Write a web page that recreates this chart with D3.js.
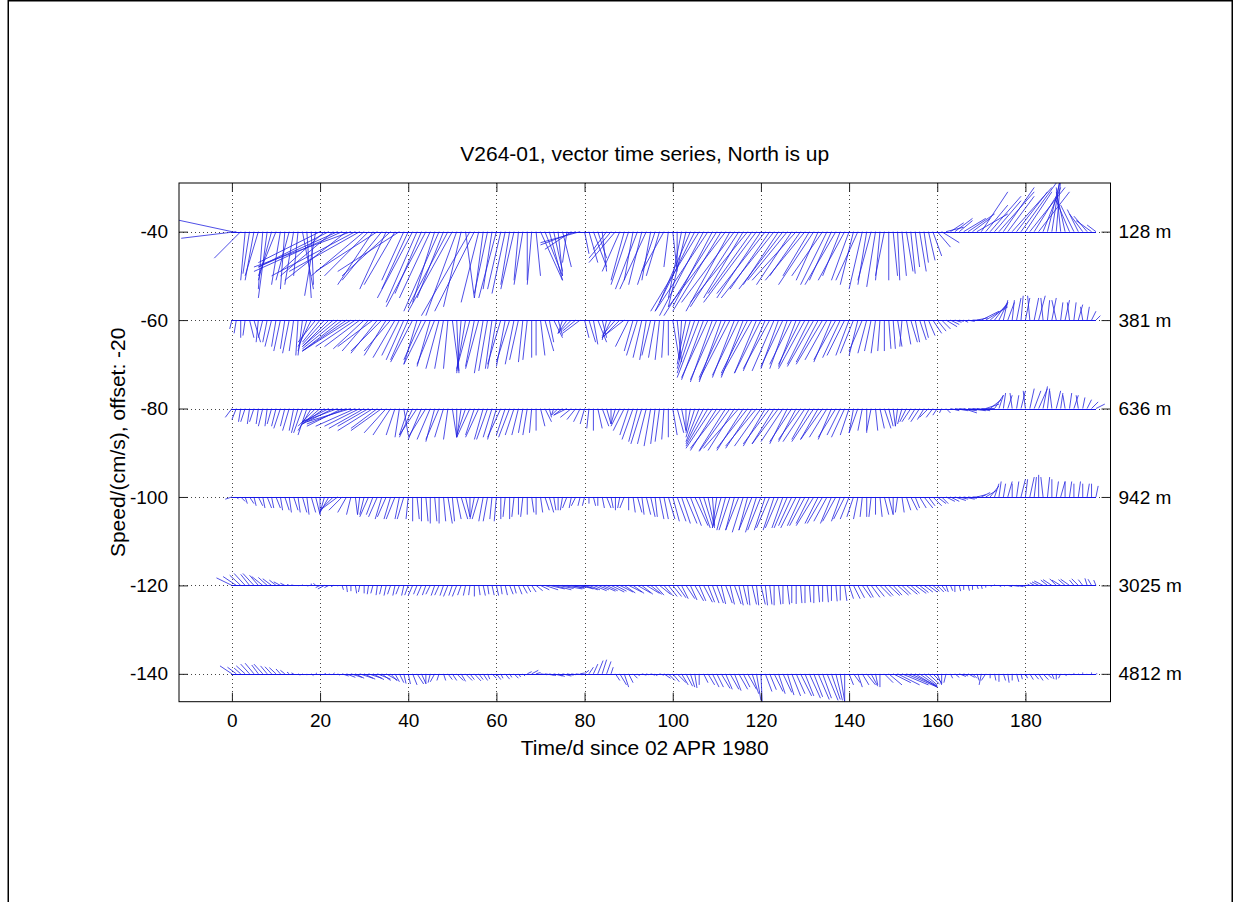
<!DOCTYPE html>
<html><head><meta charset="utf-8">
<script src="https://cdn.jsdelivr.net/npm/d3@7"></script>
<style>
body{margin:0;background:#fff}
svg{display:block}
text{font-family:"Liberation Sans",Arial,Helvetica,sans-serif;fill:#000}
</style>
</head><body>
<svg id="chart" width="1234" height="902"></svg>
<script>
// ---------- data ----------
const titleText = "V264-01, vector time series, North is up";
const xLabelText = "Time/d since 02 APR 1980";
const yLabelText = "Speed/(cm/s), offset: -20";
const depthLabels = ["128 m","381 m","636 m","942 m","3025 m","4812 m"];
const offsets = [-40,-60,-80,-100,-120,-140];
const xTicks = [0,20,40,60,80,100,120,140,160,180];
const yTicks = [-140,-120,-100,-80,-60,-40];
const firstDay = 0, lastDay = 196;

const u128 = [-14,-12.5,-6,-1,-1.5,-2,-3,-1,-2,-3, -4,-2,-1,-3,-2,-1,2.5,1,0.5,-2.5,
 -14,-10,-16,-12,-18,-20,-14,-22,-19,-16, -12,-10,-8,-14,-9,-6,-11,-7,-14,-5,
 -6,-8,-7,-6,-9,-7,-5,-8,-6,-9, -10,-7,-4,2,-11,-9,-4,-2,-3,-2,
 -4,-3,-3,-2,-3,-1,-2,0,-1,1, 5,4,3,2,1,2,-1,-6,-8,-9,
 1,2,3,2,1,-3,-5,-6,-4,-3, -4,-2,-5,-3,-6,-2,-4,-3,-5,-1,
 1,0,-3,-4,-7,-9,-11,-10,-12,-9, -12,-11,-13,-10,-12,-11,-9,-13,-10,-12,
 -10,-11,-9,-12,-8,-10,-9,-8,-10,-7, -9,-6,-8,-5,-7,-6,-5,-7,-4,-6,
 -4,-3,-5,-3,-2,-3,-2,-1,-2,0, 1,0.5,1,1.5,1,1,1.5,1,1.5,2,
 3,4,4,3,4,3,5,6,4,7, 6,5,7,6,8,7,6,9,7,8,
 6,8,5,7,4,3,2,1,-1,-2, -3,-3,-2.5,-3,-3,-3.5,-2];
const v128 = [3,-1.5,-6,-11,-9.5,-11,-10,-13,-15,-11, -10,-12,-13,-11,-12,-10,-13,-15,-12,-14.5,
 -7,-9,-8,-10,-8,-9,-11,-8,-10,-9, -10,-10,-12,-9,-11,-13,-10,-12,-9,-11,
 -13,-15,-16,-14,-17,-15,-16,-18,-15,-17, -18,-19,-17,-15,-19,-18,-16,-15,-14,-13,
 -15,-13,-14,-12,-13,-11,-12,-11,-12,-10, -11,-10,-11,-9,-10,-8,-7,-4,-3,-2.5,
 -5,-7,-8,-6,-9,-4,-6,-7,-9,-11, -12,-11,-13,-12,-13,-11,-12,-10,-9,-8,
 -9,-8,-15,-17,-16,-18,-18,-19,-18,-17, -19,-18,-17,-18,-16,-17,-15,-16,-14,-16,
 -15,-14,-13,-15,-12,-13,-11,-12,-11,-10, -11,-10,-12,-11,-10,-12,-11,-12,-10,-11,
 -11,-12,-11,-13,-12,-11,-12.5,-11,-10,-11, -10,-11,-10,-9,-9.5,-8,-9,-7,-6.5,-5.5,
 -3.5,-2.5,1,2,3,2.5,3,4,3,4, 9,6,8,7,9,10,8,10,9,11,
 9,10,8,9,10,12,13,12,10,9, 7,6,5,4,3.5,2.5,1.5];

const u381 = [-0.5,-0.5,0,-0.5,1,1.5,-0.5,-1,-1,-1.5, -1,-1.5,-1,-1.5,-1,-0.5,-1,-2,-3,-4,
 -4,-5,-6,-7,-8,-9,-10,-11,-9,-8, -7,-6,-8,-6,-7,-5,-6,-5,-4,-4,
 -4,-5,-3,-4,-5,-3,-4,-3,-2,-1, 1.5,0.5,-1,-2,-3,-2,-3,-2,-2,-1.5,
 -2,-3,-2,-3,-2,-2,-1,-1,0,0, 1,2,1,2,1,-1,-2,-3,-3,-4,
 1,1.5,1,2,1,-1,-2,-3,-4,-4.5, -3,-2,-2.5,-2,-1.5,-2,-1.5,-1,-0.5,0,
 1.5,1,-0.5,-2,-3,-4,-5,-5,-6,-5, -6,-5,-6,-7,-5,-6,-5,-6,-7,-5,
 -6,-5,-6,-5,-4,-5,-4,-5,-4,-5, -6,-5,-6,-5,-6,-5,-4,-5,-4,-4,
 -3,-3,-2,-3,-2,-1.5,-1,-0.5,0,0.5, 0.5,1,-0.5,1,1.5,1,1.5,1,1.5,2,
 2,2,2.5,2,1.5,1,1,1.5,2,2.5, 4,5,4,3,2,1,1.5,0.5,1,0.5,
 1,-0.5,1,1.5,-0.5,0.5,1,-1,0.5,1, -0.5,0.5,1,-0.5,0.5,1,1];
const v381 = [-2,-3,-4,-3.5,-4,-5,-5,-4,-5,-6, -6,-7,-6.5,-7.5,-7,-8,-8,-7,-6,-5,
 -5,-5.5,-6,-6,-6.5,-7,-7,-7,-6,-6, -6.5,-7,-6,-7.5,-7,-8,-7,-8.5,-8,-9,
 -9,-9.5,-10,-9,-10,-10.5,-10,-11,-11,-11, -11.5,-12,-12,-11.5,-11,-10.5,-11,-12,-11.5,-11,
 -11,-10,-10.5,-9.5,-10,-9,-9.5,-9,-8.5,-8, -8,-7,-5,-4,-3.5,-3,-3,-3,-2.5,-3,
 -4,-5,-5.5,-5,-4,-4.5,-4,-3.5,-4,-3.5, -6,-7,-8,-8.5,-9,-8,-8.5,-9,-8.5,-8,
 -9,-9.5,-9,-10,-11,-12,-13,-13.5,-13,-14, -13.5,-14,-13,-13.5,-13,-12.5,-13,-12,-12.5,-12,
 -12,-11.5,-11,-11.5,-11,-10.5,-11,-10,-10.5,-10, -11,-10,-10.5,-9.5,-10,-9,-9.5,-9,-8.5,-8,
 -8,-7.5,-8,-7,-7.5,-7,-7.5,-7,-7,-6.5, -6.5,-6,-6,-5.5,-5,-5,-4.5,-4,-3.5,-3,
 -2.5,-2,-1.5,-1,-0.5,-0.3,-0.5,-0.3,0,0.5, 2,3,3.5,4,4,4.5,4,4.5,5,5.5,
 5,5.5,5,5.5,5,4.5,5,4.5,4,4.5, 4,4,3.5,3,3,2,1];

const u636 = [-1.5,-1,-0.5,-1,-0.5,-1,-0.5,-1,-0.5,-1, -1,-1.5,-1,-1.5,-1,-1.5,-2,-2,-3,-4,
 -4,-5,-6,-7,-8,-8,-9,-10,-9,-8, -8,-7,-8,-6,-7,-5,-4,-2,-1,1,
 -2,-3,-4,-3,-4,-3,-2,-3,-2,-1, 1,0,-1,-2,-3,-2,-3,-2,-2.5,-2,
 -2,-3,-2,-2.5,-2,-1.5,-1,-1,-0.5,0, 1,1.5,0.5,-0.5,-1.5,-2,-3,-2.5,-2,-1.5,
 -1,-0.5,0,1,1.5,1,0,-1,-2,-2.5, -2,-2.5,-2,-2.5,-2,-1.5,-1,-1,-0.5,0,
 1,1.5,1,0,-1,-2,-3,-4,-5,-6, -6,-7,-6,-7,-6,-8,-6,-7,-6,-7,
 -6,-5,-6,-5,-6,-5,-4,-5,-4,-5, -5,-4,-5,-4,-5,-4,-3,-4,-3,-3,
 -2,-1,-2,-1,0,-1,0.5,1,1.5,1, 0.5,-0.5,-1,-1.5,-2,-1.5,-2,-1.5,-2,-1.5,
 -1,-0.5,1,2,3,4,3,4,3,3, 3,3,2.5,2,1,0.5,1,-0.5,0.5,1,
 -0.5,1,1.5,2,1,0.5,-0.5,1,0.5,-0.5, 0.5,1,-0.5,0.5,1,1.5,2];
const v636 = [-2,-2.5,-3,-3,-3.5,-3,-3.5,-4,-4,-3.5, -4,-4.5,-4,-5,-5,-5.5,-5.5,-6,-5,-4,
 -3.5,-3.5,-3,-3.5,-3,-4,-3.5,-3,-4,-4, -4.5,-4,-5,-4.5,-5,-5.5,-6,-6,-6.5,-6,
 -6,-6.5,-6,-7,-6.5,-7,-7.5,-7,-6.5,-7, -6.5,-6.5,-6.5,-6,-6.5,-6,-6.5,-7,-7,-6.5,
 -7,-6.5,-6,-6.5,-6,-6,-5.5,-6,-5.5,-5, -4,-3,-2,-1.5,-1.5,-1.5,-1.5,-2,-2.5,-3,
 -3.5,-4.5,-5,-4.5,-4,-3.5,-3.5,-3.5,-4,-5, -6,-7,-7.5,-8,-8,-8.5,-8,-7.5,-7,-6.5,
 -6,-5.5,-5,-5,-5.5,-6.5,-7.5,-8,-8.5,-9, -9.5,-9,-9.5,-9.7,-9.5,-9,-9.5,-9,-9,-8.5,
 -8.5,-8.5,-8,-8,-8,-7.5,-8,-7.5,-7.5,-7, -7.5,-7,-7.5,-7,-7,-6.5,-7,-6.5,-6,-6.5,
 -6,-5.5,-5.5,-5,-5.5,-5,-5,-4.5,-4.5,-4, -4,-4,-3.5,-3,-3,-2.5,-3,-2.5,-2,-2,
 -1.5,-1,-1,-0.5,-0.5,-0.5,-1,-0.5,-0.3,-0.5, 0,1,2,3,3,3.5,3,3.5,3,4,
 4,4.5,4,4.5,5,4.5,4,4,3.5,3, 3.5,3,3,2.5,2,1.5,1];

const u942 = [-1.5,0.5,1,0.5,1,0.5,1,0.5,1,0.5, 1,0.5,1,0.5,1,0.5,1,0.5,1,1,
 0,-1,-2,-3,-4,-3,-2,-1,0.5,-0.5, -1,-2,-1.5,-2,-1.5,-2,-1.5,-2,-1,-1.5,
 -0.5,0,0.5,0,0.5,0,0.5,0,0.5,1, 0.5,1,1.5,1,0,-1,-1.5,-1,-1,-0.5,
 -0.5,0,-0.5,0,-0.5,0,-0.5,0,0.5,0, 0.5,1,1,0.5,0,-0.5,-1,-0.5,-1,-0.5,
 -0.5,0,0.5,0,0.5,1,0.5,0,-0.5,-1, 0,0.5,1,0.5,1,1,0.5,1,1,1.5,
 1.5,2,2,2.5,2.5,3,2.5,2,1.5,0.5, -1,-2,-2,-2.5,-2,-3,-2.5,-2,-3,-2.5,
 -3,-2.5,-3,-2.5,-3,-2.5,-3,-3,-3.5,-3, -3.5,-3,-4,-3,-3.5,-3,-2.5,-3,-2,-2.5,
 -2,-1.5,-1,-0.5,0,-0.5,0,0.5,1,1, 0,-0.5,0.5,1,1.5,1,1.5,2,1.5,2,
 2,1.5,2,2,2.5,2,2.5,2,1.5,2, 2,2.5,2,1,0.5,0.5,1,0,0.5,1,
 0.5,1,0.5,0,-0.5,0.5,0,0.5,1,0, 0.5,0,0.5,0,0.5,0,0.5];
const v942 = [-0.5,-0.5,-1,-1.5,-1.5,-2,-2,-2.5,-2.5,-2.5, -2.5,-3,-3,-3.5,-3,-3.5,-3.5,-4,-3.5,-4,
 -4,-3.5,-3.5,-3,-3,-3,-3.5,-4,-4,-4, -4,-4.5,-4,-4.5,-5,-4.5,-5,-5,-5,-5,
 -5,-5.5,-5,-5.5,-5.5,-6,-5.5,-6,-5.5,-6, -5.5,-5,-5,-4.5,-4.5,-5,-5,-5.5,-5.5,-5,
 -5.5,-5,-4.5,-5,-4.5,-4,-4.5,-4,-3.5,-4, -3.5,-3,-3.5,-3,-3,-3,-2.5,-2.5,-2,-2,
 -2,-1.5,-2,-2,-2.5,-2.5,-2.5,-3,-2.5,-2.5, -3,-3.5,-3.5,-4,-4,-4.5,-4.5,-5,-5,-5,
 -5.5,-5.5,-6,-6,-6.5,-6.5,-7,-6.5,-7,-6.5, -7,-7,-7.5,-7.5,-7.5,-7.5,-8,-7.5,-7.5,-8,
 -7.5,-7.5,-7,-7.5,-7,-7,-7,-6.5,-7,-6.5, -6.5,-6,-6.5,-6,-6,-5.5,-6,-5.5,-5.5,-5,
 -5,-4.5,-5,-4.5,-4.5,-4.5,-4,-4.5,-4,-4, -4,-3.5,-3.5,-3,-3,-2.5,-2.5,-2.5,-2,-2,
 -1.5,-1.5,-1,-1,-0.8,-0.5,-0.5,-0.3,0,0.5, 1,1.5,2.5,3,3.5,3,3.5,3,3.5,4,
 4,4.5,4.5,5,4.5,4.5,4,3.5,3.5,3.5, 3.5,3,3.5,3,3,3,2.5];

const u3025 = [-3.5,-3,-2.5,-2.5,-2,-2.5,-2,-2.5,-2,-2, -1.5,-1.5,-1,-0.5,-0.5,0.2,0,0.3,0,-0.5,
 -1,-1.5,-1,-0.5,0,0.3,0.2,0,0.3,-0.3, 0,-0.3,-0.5,-0.3,-0.5,-0.5,-0.7,-0.5,-0.8,-0.5,
 -0.8,-1,-0.8,-1,-0.8,-1,-0.8,-1,-0.8,-1, -0.8,-1,-0.8,-0.5,-0.3,0,0.3,0.5,0.3,0.5,
 0.5,0.3,0.5,0.8,0.5,0.8,1,0.8,1,1.5, 2,3,3.5,4,3.5,4.5,4,3,3.5,3,
 3,2.5,3,2.5,3,2.5,3,2.5,3,2.5, 3,2.5,3,2.5,3,2.5,2,2.5,2,2,
 2,2,1.5,2,1.5,2,1.5,2,1.5,1.5, 1.5,1,1.5,1,1.5,1,1,0.5,1,0.5,
 1,0.5,0.5,0,0.5,0,0.5,0,0,0.3, 0,0.3,0,0.3,0,0.3,0,0.3,0,0.5,
 1,1.5,1.5,2,1.5,2,2,2.5,2,2.5, 2,2.5,2,2.5,2,2.5,2,2,2,1.5,
 1.5,1,0.5,0.5,0,0.3,0,0.3,0,0.3, 0.2,0,0.3,0,0.5,0.3,1,1.5,1.5,1,
 0.5,-0.5,-1,-1.5,-2,-1.5,-2,-1.5,-2,-1.5, -2,-1,-1.5,-1,-0.5,-0.8,-0.5];
const v3025 = [1.7,2,2.3,2.7,2.5,2.7,2.3,2,1.8,1.5, 1.2,0.8,0.5,0.2,0.1,-0.1,0.2,-0.2,0.4,0.5,
 -0.5,-0.8,-0.5,-0.3,-0.2,-1,-1.5,-1.3,-1.8,-1.5, -1.8,-2,-1.8,-2.2,-2,-2.3,-2,-2.3,-2,-2.3,
 -2.2,-2.3,-2,-2.3,-2.2,-2,-2.3,-2.2,-2.3,-2.5, -2.3,-2.5,-2.2,-2.3,-2.2,-2.5,-2.2,-2.3,-2,-2.2,
 -2.3,-2,-2.2,-2,-1.8,-2,-1.8,-1.5,-1.5,-1.2, -1,-1,-0.8,-1,-0.7,-0.8,-0.5,-0.7,-0.5,-0.8,
 -1,-1,-1.2,-1,-1.3,-1.2,-1.5,-1.3,-1.5,-1.7, -1.5,-1.8,-1.7,-2,-1.8,-2,-2.2,-2,-2.3,-2.5,
 -2.5,-2.8,-3,-3,-3.3,-3.5,-3.5,-3.8,-3.8,-4, -4,-4.2,-4,-4.3,-4.2,-4.5,-4.3,-4.5,-4.3,-4.5,
 -4.3,-4.5,-4.3,-4.5,-4.3,-4.2,-4.3,-4,-4.2,-4, -4,-3.8,-4,-3.8,-3.7,-3.8,-3.5,-3.6,-3.4,-3.5,
 -3,-3,-2.8,-2.8,-2.7,-2.7,-2.5,-2.5,-2.3,-2.3, -2.2,-2.2,-2,-2,-1.8,-1.8,-1.6,-1.5,-1.5,-1.3,
 -1.5,-1.3,-1.5,-1.2,-1.5,-1.3,-1,-1.2,-1,-0.8, -0.8,-0.5,-0.3,0.2,-0.3,-0.2,-0.3,-0.2,-0.3,-0.2,
 0,0.3,0.6,0.8,1,1.2,1.3,1.5,1.2,1.3, 1.4,1.2,1.5,1.3,1.6,1.4,1.2];

const u4812 = [-2.7,-2,-1.5,-2,-2,-2,-1.5,-2,-1.5,-1.5, -1.5,-1,-1,-0.5,-0.5,0.5,0.3,0,0.5,0.3,
 0,0.3,0.5,0.3,0.5,1.5,2,2.5,2,3, 2.5,3,2.5,3,2,2.5,1.5,1,1,0.5,
 0.5,1,1.5,1,0,-0.5,-1,-0.5,0.5,1, 1,1.5,1,1.5,1,1.5,1,1,0.5,1,
 1,0.5,1,0.5,1,0.5,0.5,1,1.5,1, 1.5,2,1.5,2,1.5,2,1.5,1,1.5,1,
 1,1,1,1.2,1,1,0.5,1,1.5,1, 1,1,0.5,1,0.5,1,0.5,1,1.5,1.5,
 1.5,2,1.5,1.5,1,0.5,0,1,1.5,1.5, 1.5,2,1.5,2,1.5,2,1.5,2,1.5,1,
 0.3,1.5,1.5,2,1.5,2,1.5,2,2,2.5, 2,2.5,2,2.5,2,2.5,2,1.5,1,0,
 1,1.5,1,1.5,2,1.5,0.5,0,2,3, 4,5,6,7,6,5,4,3,2.5,2,
 1,0,-0.5,0.5,1,1.5,1,1.5,1,0.5, -0.5,-1,0,0.3,0,0.5,0.3,0,0.5,0.3,
 0.5,0.8,1,1,1.2,1,0.5,0,-0.5,0.3, 0.3,0,0.3,0,0.2,0,0.3];
const v4812 = [1.8,1.5,1.3,1.8,2.2,2.4,2,2.2,1.8,1.6, 1.4,1.1,0.8,0.4,0.2,-0.3,-0.2,-0.3,-0.4,0.2,
 -0.2,0.1,-0.2,0.2,-0.3,-0.5,-0.8,-0.8,-1,-1, -1.2,-1,-1.3,-1.2,-1.5,-1.4,-1.6,-1.8,-2,-2.2,
 -2.3,-2.5,-2.3,-2.2,-2.3,-2,-1.8,-1.5,-1.5,-1.3, -1.5,-1.5,-1.7,-1.5,-1.3,-1.6,-1.3,-1.5,-1.2,-1,
 -1.3,-1,-1.2,-0.8,-1,-0.7,-0.5,0.5,0.8,0.3, -0.2,-0.3,-0.4,-0.5,-0.6,-0.5,-0.3,-0.2,-0.2,0.2,
 0.8,1.5,2.2,3,3.2,2.8,1.5,-1.5,-2.5,-3, -2,-1,-0.5,-0.3,-0.2,-0.3,-0.5,-0.3,-1,-1.5,
 -1.8,-2,-2.5,-2.8,-3,-3.2,-2.5,-2,-2.5,-3, -3,-3.3,-3.5,-3.5,-3.8,-3.5,-3,-3.5,-4.5,-6,
 -6.5,-4,-3.6,-4,-4.5,-4.2,-4.8,-5,-4.5,-5, -5,-5.5,-5.2,-5.8,-5.5,-6,-5.8,-6,-6.3,-6.5,
 -2.5,-2,-3,-2.5,-2.5,-2.8,-2.5,-3,-2,-2.5, -2,-2.5,-2.5,-3,-2.8,-3,-2.8,-2.5,-2.3,-2,
 -2.5,-2.3,-2,-1,-0.8,-0.6,-0.5,-0.8,-1,-1.5, -2.5,-1.5,-1,-1.5,-1.8,-1.5,-2,-1.5,-1.8,-1.2,
 -1,-1.3,-1.2,-1.5,-1.3,-1,-1.2,-1.3,-1,-0.5, -0.3,0.2,-0.2,0.3,-0.2,0.3,0];

const uSeries = [u128,u381,u636,u942,u3025,u4812];
const vSeries = [v128,v381,v636,v942,v3025,v4812];

// ---------- layout ----------
const svg = d3.select("#chart");
const L = 179, R = 1110.5, T = 183, B = 701.7;
const x = d3.scaleLinear().domain([-12, 199.3]).range([L, R]);
const y = d3.scaleLinear().domain([-146.3, -29]).range([B, T]);

// figure frame
svg.append("rect").attr("x",0).attr("y",0).attr("width",1234).attr("height",902).attr("fill","#fff");
const frame = svg.append("g").attr("stroke","#000").attr("stroke-width",1.5);
frame.append("line").attr("x1",8).attr("x2",1233).attr("y1",0.75).attr("y2",0.75);
frame.append("line").attr("x1",8.25).attr("x2",8.25).attr("y1",0).attr("y2",902);
frame.append("line").attr("x1",1232.25).attr("x2",1232.25).attr("y1",0).attr("y2",902);

svg.append("defs").append("clipPath").attr("id","plotclip")
  .append("rect").attr("x",L).attr("y",T).attr("width",R-L).attr("height",B-T);

// grid
const grid = svg.append("g").attr("stroke","#444").attr("stroke-width",1).attr("stroke-dasharray","1,3");
grid.selectAll("line.vx").data(xTicks).join("line")
  .attr("x1",d=>Math.round(x(d))+0.5).attr("x2",d=>Math.round(x(d))+0.5)
  .attr("y1",T).attr("y2",B);
grid.selectAll("line.hy").data(yTicks).join("line")
  .attr("y1",d=>Math.round(y(d))+0.5).attr("y2",d=>Math.round(y(d))+0.5)
  .attr("x1",L).attr("x2",R);

// sticks
const plot = svg.append("g").attr("clip-path","url(#plotclip)");
offsets.forEach((off,k)=>{
  const us = uSeries[k], vs = vSeries[k];
  const g = plot.append("g").attr("stroke","#2222e0").attr("stroke-width",0.8).attr("fill","none");
  g.selectAll("line").data(us.map((u,i)=>({t:firstDay+i,u:u,v:vs[i]}))).join("line")
    .attr("x1",d=>x(d.t)).attr("y1",y(off))
    .attr("x2",d=>x(d.t+d.u)).attr("y2",d=>y(off+d.v));
  plot.append("line").attr("stroke","#1515e6").attr("stroke-width",1)
    .attr("x1",x(firstDay)).attr("x2",x(lastDay))
    .attr("y1",Math.round(y(off))+0.5).attr("y2",Math.round(y(off))+0.5);
});

// axes
const fs = 19;
const plain = d => String(d);
function styleAxis(g){
  g.select(".domain").remove();
  g.selectAll(".tick line").attr("stroke","#222");
  g.selectAll(".tick text").attr("font-size",fs).attr("fill","#000")
    .style("font-family",'"Liberation Sans",Arial,sans-serif');
}
svg.append("g").attr("transform",`translate(0,${B})`)
  .call(d3.axisBottom(x).tickValues(xTicks).tickFormat(plain).tickSizeInner(-9).tickSizeOuter(0).tickPadding(12))
  .call(styleAxis);
svg.append("g").attr("transform",`translate(0,${T})`)
  .call(d3.axisTop(x).tickValues(xTicks).tickSizeInner(-9).tickSizeOuter(0).tickFormat(""))
  .call(styleAxis);
svg.append("g").attr("transform",`translate(${L},0)`)
  .call(d3.axisLeft(y).tickValues(yTicks).tickFormat(plain).tickSizeInner(-9).tickSizeOuter(0).tickPadding(11))
  .call(styleAxis);
svg.append("g").attr("transform",`translate(${R},0)`)
  .call(d3.axisRight(y).tickValues(offsets).tickSizeInner(-9).tickSizeOuter(0).tickPadding(8)
     .tickFormat((d,i)=>depthLabels[i]))
  .call(styleAxis);

// box
svg.append("rect").attr("x",L).attr("y",T).attr("width",R-L).attr("height",B-T)
  .attr("fill","none").attr("stroke","#000").attr("stroke-width",1);

// titles
svg.append("text").attr("x",(L+R)/2).attr("y",161).attr("text-anchor","middle")
  .attr("font-size",21).text(titleText);
svg.append("text").attr("x",(L+R)/2).attr("y",755).attr("text-anchor","middle")
  .attr("font-size",21).text(xLabelText);
svg.append("text").attr("transform",`translate(125,${(T+B)/2}) rotate(-90)`)
  .attr("text-anchor","middle").attr("font-size",21).text(yLabelText);
</script>
</body></html>
